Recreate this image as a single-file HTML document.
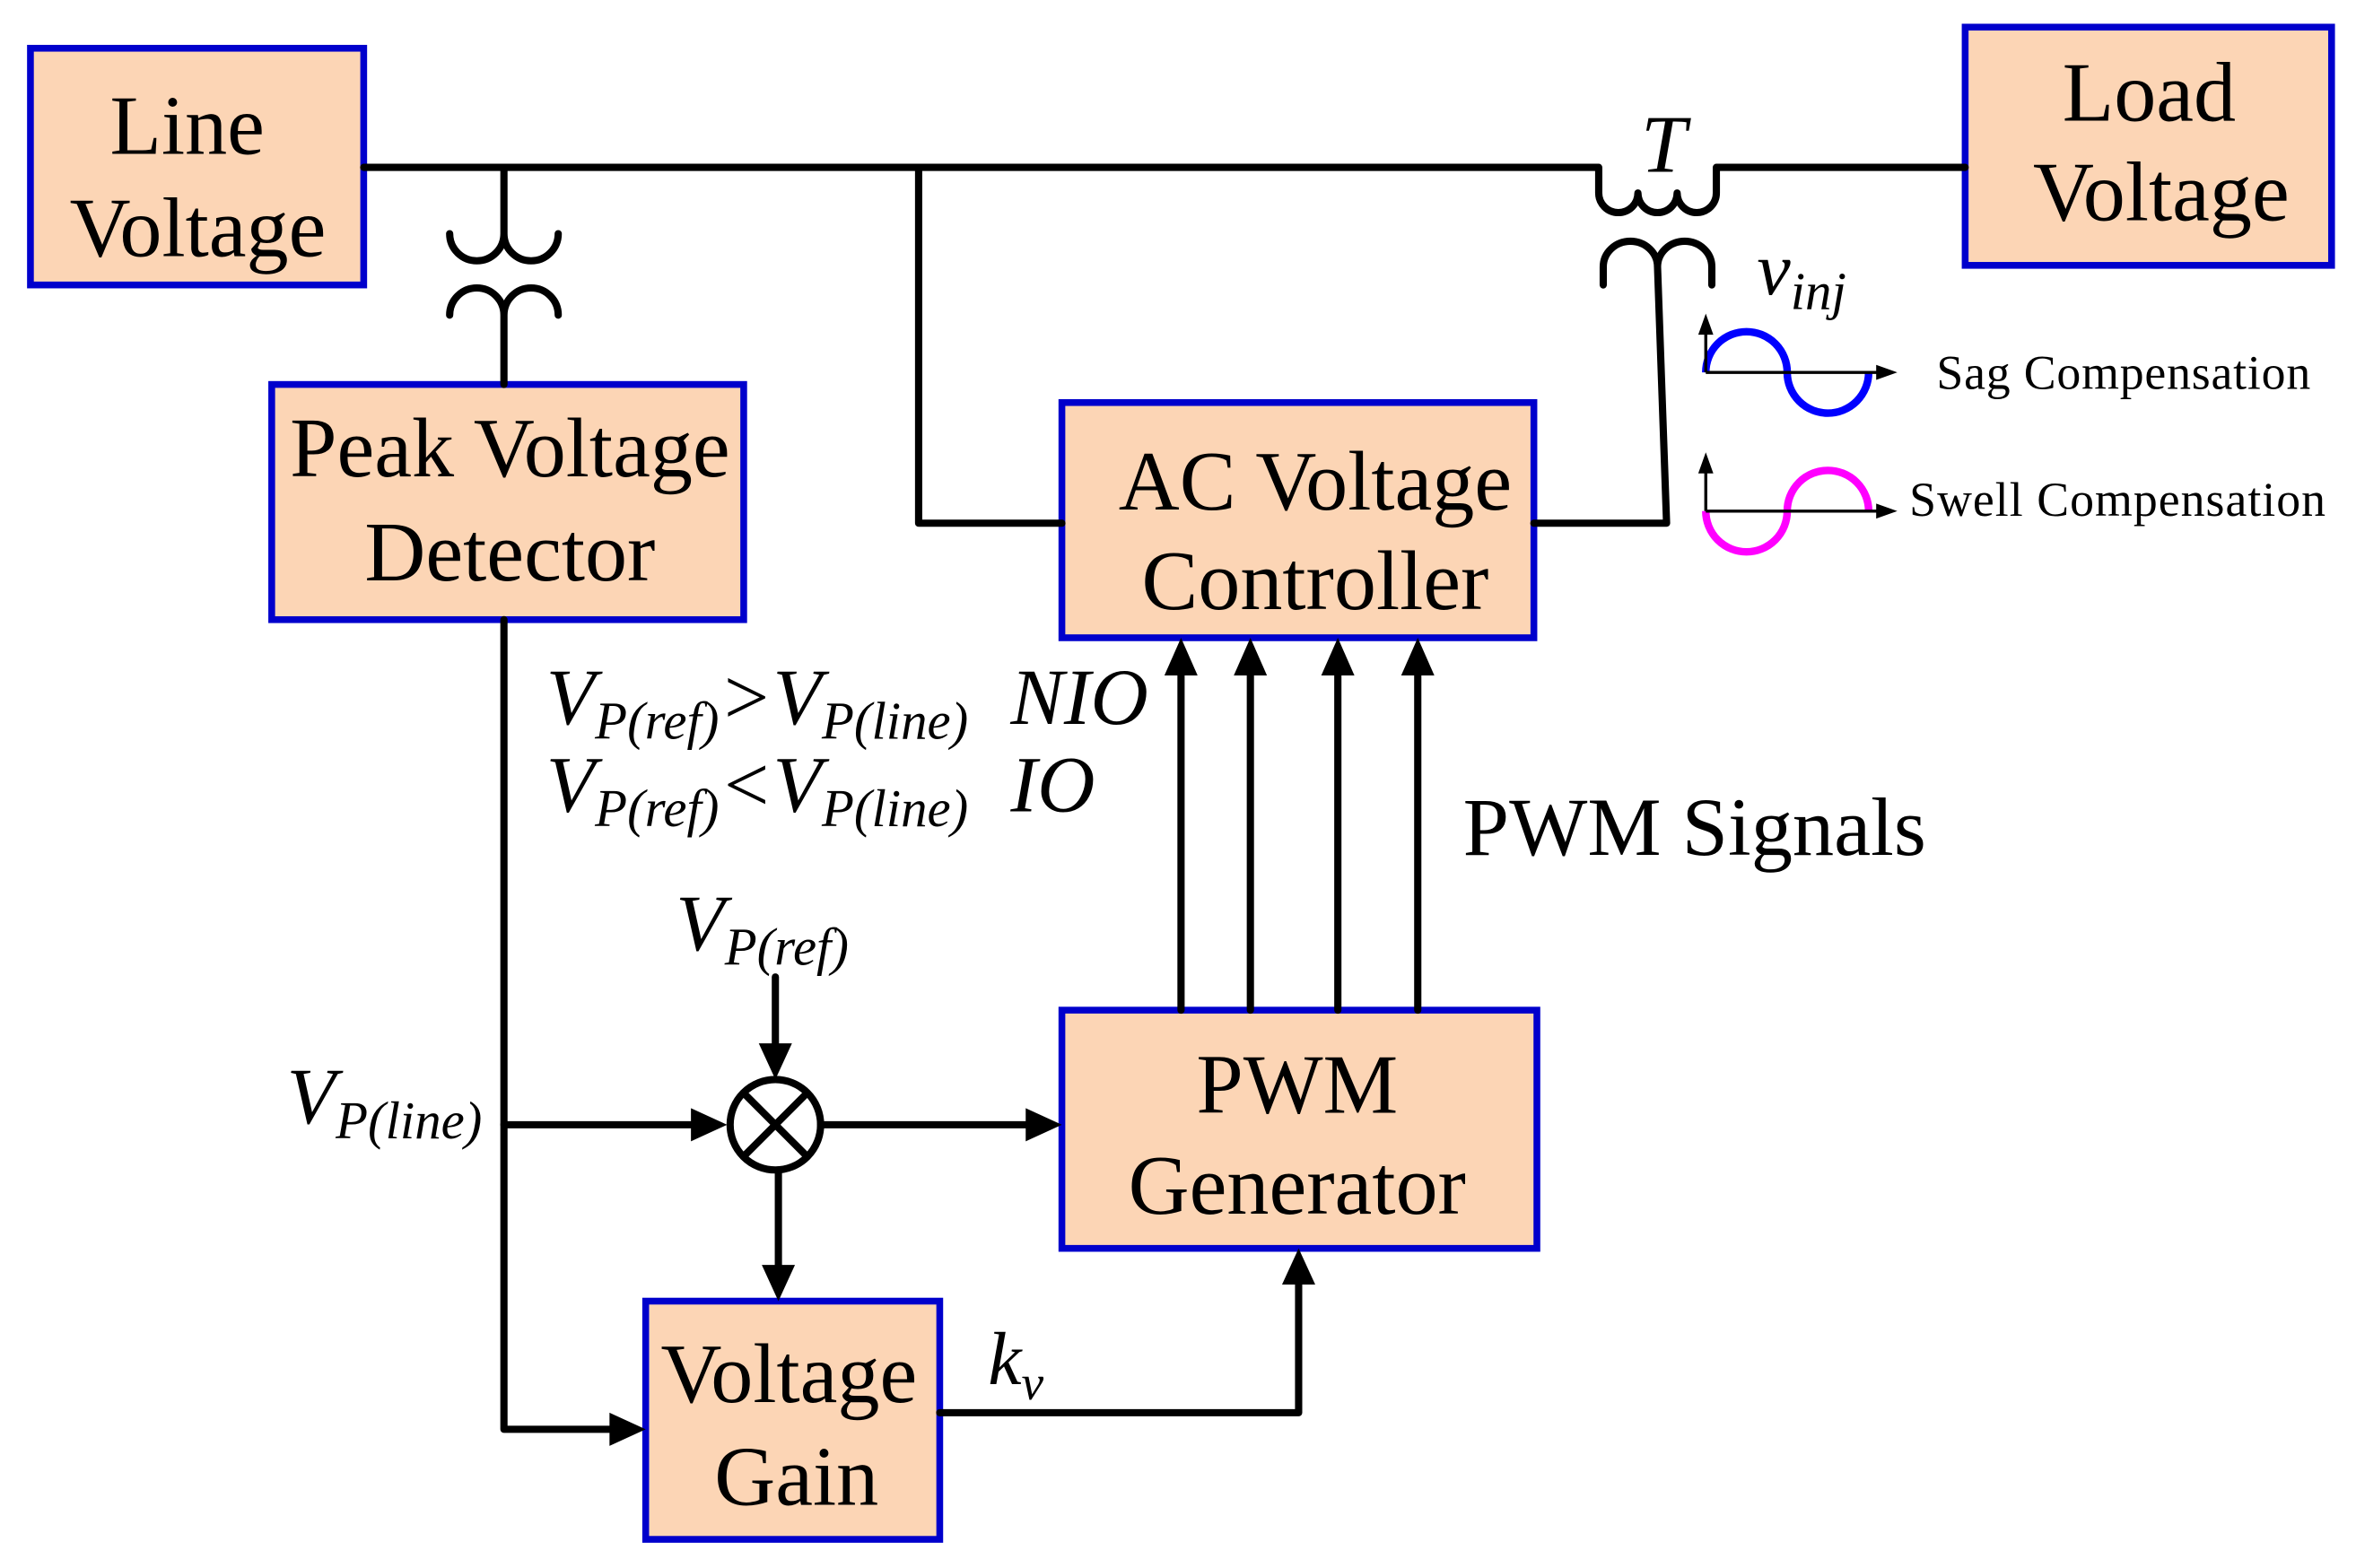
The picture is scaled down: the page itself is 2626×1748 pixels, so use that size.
<!DOCTYPE html>
<html><head><meta charset="utf-8"><style>
html,body{margin:0;padding:0;background:#fff;}
svg{display:block;}
text{font-family:"Liberation Serif",serif;fill:#000;}
.b{font-size:56px;text-anchor:middle;}
.i{font-style:italic;}
</style></head><body>
<svg width="2626" height="1748" viewBox="0 0 1562 1040" xmlns="http://www.w3.org/2000/svg">
<g fill="#FCD5B5" stroke="#0000CC" stroke-width="4.5">
<rect x="20" y="32" width="221" height="157"/>
<rect x="1303" y="18" width="243" height="158"/>
<rect x="180" y="255" width="313" height="156"/>
<rect x="704" y="267" width="313" height="156"/>
<rect x="704" y="670" width="315" height="158"/>
<rect x="428" y="863" width="195" height="158"/>
</g>
<g fill="none" stroke="#000" stroke-width="4.8" stroke-linecap="round" stroke-linejoin="round">
<path d="M241,111 H1060 V128 A13,13 0 0 0 1086,128 A13,13 0 0 0 1112,128 A13,13 0 0 0 1138,128 V111 H1303"/>
<path d="M1063,189 V177 A18,17 0 0 1 1099,177 A18,17 0 0 1 1135,177 V189"/>
<path d="M1099,177 L1105,347 H1017"/>
<path d="M609,111 V347 H704"/>
<path d="M334,111 V155 M298,155 A18,18 0 0 0 334,155 A18,18 0 0 0 370,155"/>
<path d="M298,209 A18,18 0 0 1 334,209 A18,18 0 0 1 370,209 M334,209 V255"/>
<path d="M334,411 V948 H412"/>
<path d="M334,746 H466"/>
<circle cx="514" cy="746" r="30"/>
<path d="M493,725 L535,767 M535,725 L493,767"/>
<path d="M514,648 V700"/>
<path d="M544,746 H688"/>
<path d="M516,776 V848"/>
<path d="M623,937 H861 V844"/>
<path d="M783,670 V440 M829,670 V440 M887,670 V440 M940,670 V440"/>
</g>
<g fill="#000">
<polygon points="428,948 404,937 404,959"/>
<polygon points="482,746 458,735 458,757"/>
<polygon points="514,716 503,692 525,692"/>
<polygon points="704,746 680,735 680,757"/>
<polygon points="516,863 505,839 527,839"/>
<polygon points="861,828 850,852 872,852"/>
<polygon points="783,423 772,448 794,448"/>
<polygon points="829,423 818,448 840,448"/>
<polygon points="887,423 876,448 898,448"/>
<polygon points="940,423 929,448 951,448"/>
</g>
<path d="M1131,247 A27,27 0 0 1 1185,247 A27,27 0 0 0 1239,247" fill="none" stroke="#0000FF" stroke-width="5"/>
<path d="M1131,339 A27,27 0 0 0 1185,339 A27,27 0 0 1 1239,339" fill="none" stroke="#FF00FF" stroke-width="5"/>
<g stroke="#000" stroke-width="2" fill="none">
<path d="M1131,247 V214 M1131,247 H1248"/>
<path d="M1131,339 V306 M1131,339 H1248"/>
</g>
<g fill="#000">
<polygon points="1131,208 1126,222 1136,222"/>
<polygon points="1258,247 1244,242 1244,252"/>
<polygon points="1131,300 1126,314 1136,314"/>
<polygon points="1258,339 1244,334 1244,344"/>
</g>
<text x="1284" y="258" style="font-size:32px" textLength="248">Sag Compensation</text>
<text x="1266" y="342" style="font-size:32px" textLength="276">Swell Compensation</text>
<text class="b" x="124" y="102">Line</text>
<text class="b" x="131" y="170">Voltage</text>
<text class="b" x="1425" y="80">Load</text>
<text class="b" x="1433" y="146">Voltage</text>
<text class="b" x="338" y="316">Peak Voltage</text>
<text class="b" x="338" y="385">Detector</text>
<text class="b" x="872" y="338">AC Voltage</text>
<text class="b" x="872" y="404">Controller</text>
<text class="b" x="860" y="738">PWM</text>
<text class="b" x="860" y="805">Generator</text>
<text class="b" x="523" y="930">Voltage</text>
<text class="b" x="528" y="998">Gain</text>
<text x="970" y="567" style="font-size:55px">PWM Signals</text>
<text class="i" x="362" y="480" style="font-size:53px">V<tspan dy="10" style="font-size:35px">P(ref)</tspan><tspan dy="-10">&gt;V</tspan><tspan dy="10" style="font-size:35px">P(line)</tspan><tspan dy="-10" x="670">NIO</tspan></text>
<text class="i" x="362" y="538" style="font-size:53px">V<tspan dy="10" style="font-size:35px">P(ref)</tspan><tspan dy="-10">&lt;V</tspan><tspan dy="10" style="font-size:35px">P(line)</tspan><tspan dy="-10" x="670">IO</tspan></text>
<text class="i" x="448" y="630" style="font-size:53px">V<tspan dy="10" style="font-size:35px">P(ref)</tspan></text>
<text class="i" x="190" y="745" style="font-size:53px">V<tspan dy="10" style="font-size:35px">P(line)</tspan></text>
<text class="i" x="655" y="918" style="font-size:50px">k<tspan dy="10" style="font-size:33px">v</tspan></text>
<text class="i" x="1088" y="114" style="font-size:54px">T</text>
<text class="i" x="1165" y="195" style="font-size:50px">v<tspan dy="10" style="font-size:35px">inj</tspan></text>
</svg>
</body></html>
